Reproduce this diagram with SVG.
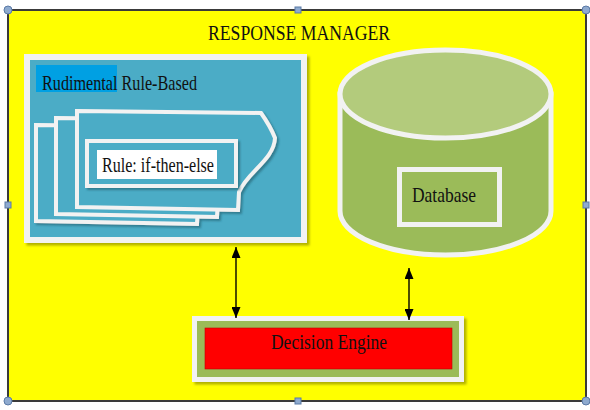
<svg xmlns="http://www.w3.org/2000/svg" width="590" height="410" viewBox="0 0 590 410">
  <style>
    .lbl { font-family: "Liberation Serif", "Times New Roman", serif; fill: #111; }
    .panel { stroke: #f2f2f2; }
    .handle { fill: #8eaacf; stroke: #5b7aa6; stroke-width: 1; }
    .conn { stroke: #000; stroke-width: 1.4; fill: none; marker-start: url(#head); marker-end: url(#head); }
  </style>
  <defs>
    <marker id="head" viewBox="0 0 11 9" refX="11" refY="4.5" markerWidth="11" markerHeight="9" markerUnits="userSpaceOnUse" orient="auto-start-reverse">
      <path d="M0,0 L11,4.5 L0,9 Z" fill="#000"/>
    </marker>
    <filter id="shadow" x="-10%" y="-10%" width="130%" height="130%">
      <feDropShadow dx="2.5" dy="2.5" stdDeviation="0.8" flood-color="#000" flood-opacity="0.3"/>
    </filter>
    <filter id="shadowTeal" x="-10%" y="-10%" width="130%" height="130%">
      <feDropShadow dx="2" dy="2" stdDeviation="0.8" flood-color="#1f5a6a" flood-opacity="0.6"/>
    </filter>
    <!-- one sheet of the stacked rule documents -->
    <path id="sheet" d="M77,111 L261,113 C266,120 271,128 275,138 C274,160 247,172 239,192 L238,210 L77,207 Z"/>
  </defs>

  <!-- outer frame -->
  <g id="frame">
    <rect x="8" y="10" width="578" height="391" fill="#ffff00" stroke="#3a3a3a" stroke-width="2"/>
    <text class="lbl" x="208" y="40" font-size="22" textLength="182" lengthAdjust="spacingAndGlyphs">RESPONSE MANAGER</text>
  </g>

  <!-- rule-based module -->
  <g id="rule-based">
    <rect class="panel" x="27" y="57" width="277" height="183" fill="#4bacc6" stroke-width="6" filter="url(#shadow)"/>
    <rect x="36" y="65" width="81" height="27" fill="#00a0e3"/>
    <text class="lbl" x="42" y="90" font-size="21" textLength="155" lengthAdjust="spacingAndGlyphs">Rudimental Rule-Based</text>
    <g fill="#4bacc6" stroke="#f2f2f2" stroke-width="4" filter="url(#shadowTeal)">
      <use href="#sheet" transform="translate(-41,14)"/>
      <use href="#sheet" transform="translate(-21,7)"/>
      <use href="#sheet"/>
    </g>
    <rect x="87" y="141" width="149" height="45" fill="#4bacc6" stroke="#f2f2f2" stroke-width="4" filter="url(#shadowTeal)"/>
    <rect x="97" y="150" width="120" height="29" fill="#fff"/>
    <text class="lbl" x="102" y="172" font-size="21" textLength="112" lengthAdjust="spacingAndGlyphs">Rule: if-then-else</text>
  </g>

  <!-- database -->
  <g id="database">
    <path d="M340,94 V211 A105.5,44 0 0 0 551,211 V94 Z" fill="#9bbb59" stroke="#f2f2f2" stroke-width="5"/>
    <ellipse cx="445.5" cy="94" rx="105.5" ry="44" fill="#b3cb7c" stroke="#f2f2f2" stroke-width="5"/>
    <rect x="399.5" y="169.5" width="100" height="55" fill="#9bbb59" stroke="#f2f2f2" stroke-width="5"/>
    <text class="lbl" x="412" y="202" font-size="21" textLength="64" lengthAdjust="spacingAndGlyphs">Database</text>
  </g>

  <!-- decision engine -->
  <g id="decision-engine">
    <rect class="panel" x="194.5" y="318.5" width="267" height="61" fill="#9bbb59" stroke-width="5" filter="url(#shadow)"/>
    <rect x="205" y="328" width="247" height="41" fill="#ff0000" stroke="#c00000" stroke-width="0.6"/>
    <text class="lbl" x="329" y="349" font-size="22" text-anchor="middle" textLength="116" lengthAdjust="spacingAndGlyphs">Decision Engine</text>
  </g>

  <!-- connectors -->
  <g id="connectors">
    <line class="conn" x1="236" y1="247" x2="236" y2="318"/>
    <line class="conn" x1="409" y1="268" x2="409" y2="320"/>
  </g>

  <!-- selection handles -->
  <g id="handles">
    <circle class="handle" cx="8" cy="10" r="4"/>
    <circle class="handle" cx="586" cy="10" r="4"/>
    <circle class="handle" cx="8" cy="401" r="4"/>
    <circle class="handle" cx="586" cy="401" r="4"/>
    <rect class="handle" x="295" y="7" width="6" height="6"/>
    <rect class="handle" x="295" y="398" width="6" height="6"/>
    <rect class="handle" x="5" y="202" width="6" height="6"/>
    <rect class="handle" x="583" y="202" width="6" height="6"/>
  </g>
</svg>
